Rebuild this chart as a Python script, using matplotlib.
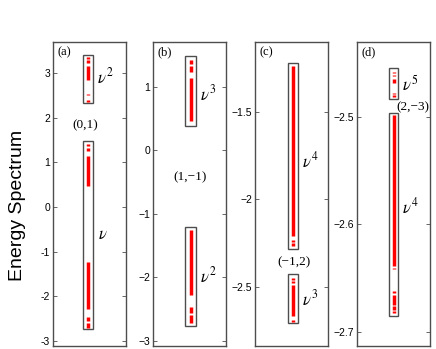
import matplotlib
matplotlib.use("Agg")
import matplotlib.pyplot as plt
from matplotlib.patches import Rectangle

plt.rcParams['mathtext.fontset'] = 'stix'
plt.rcParams['font.family'] = ['Liberation Sans', 'DejaVu Sans']

# ---- data: spectral bands (start, end) of the energy spectrum per panel ----
a_upper_bands = [(3.35, 3.30), (3.28, 3.21), (3.15, 2.85), (2.53, 2.50), (2.40, 2.35)]
a_upper_box = (2.32, 3.40)
a_lower_bands = [(1.41, 1.36), (1.33, 1.26), (1.14, 0.47), (-1.24, -2.28), (-2.47, -2.55), (-2.59, -2.71)]
a_lower_box = (-2.74, 1.48)

b_upper_bands = [(1.42, 1.36), (1.32, 1.23), (1.13, 0.46)]
b_upper_box = (0.38, 1.48)
b_lower_bands = [(-1.25, -2.28), (-2.47, -2.56), (-2.60, -2.72)]
b_lower_box = (-2.77, -1.21)

c_upper_bands = [(-1.24, -2.213), (-2.232, -2.245), (-2.252, -2.266)]
c_upper_box = (-2.285, -1.22)
c_lower_bands = [(-2.45, -2.46), (-2.47, -2.48), (-2.49, -2.67), (-2.69, -2.70)]
c_lower_box = (-2.707, -2.428)

d_upper_bands = [(-2.458, -2.4595), (-2.4610, -2.4625), (-2.4645, -2.4690), (-2.4780, -2.4790), (-2.4800, -2.4814)]
d_upper_box = (-2.4839, -2.4551)
d_lower_bands = [(-2.4985, -2.6390), (-2.6405, -2.6420), (-2.6625, -2.6640), (-2.6655, -2.6750), (-2.6765, -2.6800), (-2.6812, -2.6827)]
d_lower_box = (-2.685, -2.4963)

ylims = [(-3.11, 3.69), (-3.08, 1.70), (-2.84, -1.10), (-2.7133, -2.4305)]
yticks = [[-3, -2, -1, 0, 1, 2, 3], [-3, -2, -1, 0, 1], [-2.5, -2, -1.5], [-2.7, -2.6, -2.5]]
yticklabels = [['-3', '-2', '-1', '0', '1', '2', '3'],
               ['\u22123', '\u22122', '\u22121', '0', '1'],
               ['\u22122.5', '\u22122', '\u22121.5'],
               ['\u22122.7', '\u22122.6', '\u22122.5']]
panel_tags = ['(a)', '(b)', '(c)', '(d)']

W, H = 436, 349
fig = plt.figure(figsize=(W / 100, H / 100), dpi=100)

lefts = [53, 153, 255, 357]
ax_w = 73
top, bottom = 42, 346

panels = [
    (a_upper_bands, a_upper_box, a_lower_bands, a_lower_box, 0.48, (0.406, 0.55)),
    (b_upper_bands, b_upper_box, b_lower_bands, b_lower_box, 0.52, (0.44, 0.59)),
    (c_upper_bands, c_upper_box, c_lower_bands, c_lower_box, 0.52, (0.455, 0.59)),
    (d_upper_bands, d_upper_box, d_lower_bands, d_lower_box, 0.50, (0.44, 0.565)),
]

axes = []
for i, (ub, ubox, lb, lbox, xr, (bx0, bx1)) in enumerate(panels):
    ax = fig.add_axes([lefts[i] / W, (H - bottom) / H, ax_w / W, (bottom - top) / H])
    axes.append(ax)
    ax.set_xlim(0, 1)
    ax.set_ylim(*ylims[i])
    for box in (ubox, lbox):
        ax.add_patch(Rectangle((bx0, box[0]), bx1 - bx0, box[1] - box[0],
                               fill=False, edgecolor='0.3', lw=1.0, zorder=2))
    for s, e in ub + lb:
        ax.plot([xr, xr], [s, e], color='red', lw=2.5, solid_capstyle='butt', zorder=3)
    ax.set_xticks([])
    ax.set_yticks(yticks[i])
    ax.set_yticklabels(yticklabels[i], fontsize=7.5)
    ax.tick_params(axis='y', direction='in', right=True, length=3, width=0.6, color='0.3', pad=2)
    for sp in ax.spines.values():
        sp.set_color('0.3')
        sp.set_linewidth(1.0)
    ax.text(0.06, 0.985, panel_tags[i], transform=ax.transAxes, ha='left', va='top',
            fontsize=9, family='Liberation Serif')

serif = dict(family='Liberation Serif', fontsize=9.5)
mfs = 12
# panel (a)
t = axes[0].get_yaxis_transform()
axes[0].text(0.60, 2.91, r'$\nu^2$', transform=t, fontsize=mfs, va='center')
axes[0].text(0.44, 1.83, '(0,1)', transform=t, ha='center', va='center', **serif)
axes[0].text(0.62, -0.62, r'$\nu$', transform=t, fontsize=mfs, va='center')
# panel (b)
t = axes[1].get_yaxis_transform()
axes[1].text(0.64, 0.89, r'$\nu^3$', transform=t, fontsize=mfs, va='center')
axes[1].text(0.51, -0.43, '(1,\u22121)', transform=t, ha='center', va='center', **serif)
axes[1].text(0.64, -1.97, r'$\nu^2$', transform=t, fontsize=mfs, va='center')
# panel (c)
t = axes[2].get_yaxis_transform()
axes[2].text(0.65, -1.78, r'$\nu^4$', transform=t, fontsize=mfs, va='center')
axes[2].text(0.53, -2.36, '(\u22121,2)', transform=t, ha='center', va='center', **serif)
axes[2].text(0.64, -2.565, r'$\nu^3$', transform=t, fontsize=mfs, va='center')
# panel (d)
t = axes[3].get_yaxis_transform()
axes[3].text(0.62, -2.469, r'$\nu^5$', transform=t, fontsize=mfs, va='center')
axes[3].text(0.54, -2.4915, '(2,\u22123)', transform=t, ha='left', va='center', clip_on=False, **serif)
axes[3].text(0.62, -2.583, r'$\nu^4$', transform=t, fontsize=mfs, va='center')

fig.text(18 / W, 0.41, 'Energy Spectrum', rotation=90, ha='center', va='center', fontsize=14)

fig.savefig('out.png', dpi=100)
